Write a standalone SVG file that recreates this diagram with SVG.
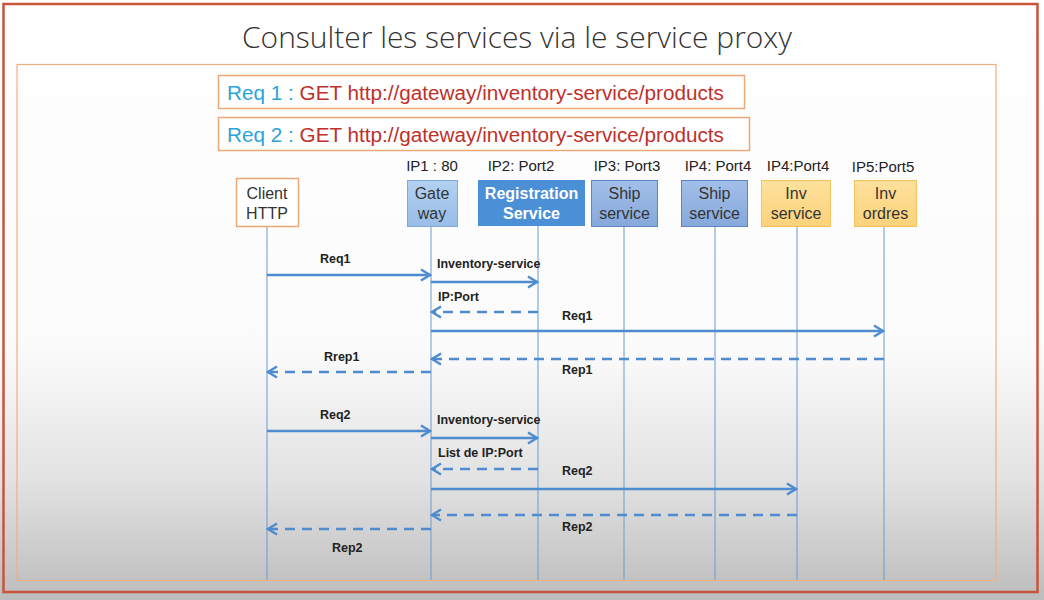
<svg xmlns="http://www.w3.org/2000/svg" width="1044" height="600" viewBox="0 0 1044 600">
  <defs>
    <linearGradient id="bg" x1="0" y1="0" x2="0" y2="1">
      <stop offset="0" stop-color="#ffffff"/>
      <stop offset="0.58" stop-color="#fbfbfb"/>
      <stop offset="0.8" stop-color="#e2e2e2"/>
      <stop offset="1" stop-color="#bcbcbc"/>
    </linearGradient>
    <linearGradient id="gwFill" x1="0" y1="0" x2="0" y2="1">
      <stop offset="0" stop-color="#b3d0f0"/>
      <stop offset="1" stop-color="#98bde8"/>
    </linearGradient>
    <linearGradient id="shipFill" x1="0" y1="0" x2="0" y2="1">
      <stop offset="0" stop-color="#a3bfe8"/>
      <stop offset="1" stop-color="#86a8dc"/>
    </linearGradient>
    <linearGradient id="invFill" x1="0" y1="0" x2="0" y2="1">
      <stop offset="0" stop-color="#fee19d"/>
      <stop offset="1" stop-color="#fcd27a"/>
    </linearGradient>
    <marker id="arrow" viewBox="0 0 14 14" refX="12" refY="7" markerWidth="14" markerHeight="14" markerUnits="userSpaceOnUse" orient="auto">
      <path d="M3,1.5 L12,7 L3,12.5" fill="none" stroke="#4f8ccf" stroke-width="2.4"/>
    </marker>
    <style>
      .title { font-family: "Open Sans", "Liberation Sans", sans-serif; font-weight: 300; font-size: 30px; fill: #333; }
      .req { font-family: "Liberation Sans", Arial, sans-serif; font-size: 20px; fill: #c0302a; }
      .reqId { fill: #2aa4d8; }
      .reqBox { fill: #ffffff; stroke: #eda878; stroke-width: 1.5; }
      .ip { font-family: "Liberation Sans", Arial, sans-serif; font-size: 15px; fill: #222; text-anchor: middle; }
      .nodeText { font-family: "Liberation Sans", Arial, sans-serif; font-size: 16px; fill: #333; text-anchor: middle; }
      .nodeTextW { font-family: "Liberation Sans", Arial, sans-serif; font-size: 16px; font-weight: bold; fill: #ffffff; text-anchor: middle; }
      .life { stroke: #6a9bd0; stroke-width: 1; fill: none; }
      .msg { stroke: #4f8ccf; stroke-width: 2.4; fill: none; marker-end: url(#arrow); }
      .ret { stroke: #4f8ccf; stroke-width: 2.4; fill: none; stroke-dasharray: 10 7; marker-end: url(#arrow); }
      .lbl { font-family: "Liberation Sans", Arial, sans-serif; font-size: 12.5px; font-weight: bold; fill: #222; }
    </style>
  </defs>

  <!-- page background and frames -->
  <rect x="0" y="0" width="1044" height="600" fill="url(#bg)"/>
  <rect x="3.5" y="4" width="1034" height="588" fill="none" stroke="#c9543c" stroke-width="2.5"/>
  <text class="title" x="517" y="48" text-anchor="middle" textLength="550" lengthAdjust="spacingAndGlyphs">Consulter les services via le service proxy</text>
  <rect x="17" y="64.5" width="979" height="516" fill="none" stroke="#f0b080" stroke-width="1.2"/>

  <!-- request headers -->
  <g id="req1">
    <rect class="reqBox" x="218.5" y="75.5" width="526" height="33"/>
    <text class="req" x="227" y="100" textLength="497" lengthAdjust="spacingAndGlyphs"><tspan class="reqId">Req 1 : </tspan>GET http://gateway/inventory-service/products</text>
  </g>
  <g id="req2">
    <rect class="reqBox" x="218.5" y="117.5" width="531" height="33"/>
    <text class="req" x="227" y="142" textLength="497" lengthAdjust="spacingAndGlyphs"><tspan class="reqId">Req 2 : </tspan>GET http://gateway/inventory-service/products</text>
  </g>

  <!-- lifelines -->
  <g id="lifelines">
    <line class="life" x1="267" y1="227" x2="267" y2="580"/>
    <line class="life" x1="431" y1="227" x2="431" y2="580"/>
    <line class="life" x1="538" y1="226" x2="538" y2="580"/>
    <line class="life" x1="624" y1="227" x2="624" y2="580"/>
    <line class="life" x1="715" y1="227" x2="715" y2="580"/>
    <line class="life" x1="797" y1="227" x2="797" y2="580"/>
    <line class="life" x1="884" y1="227" x2="884" y2="580"/>
  </g>

  <!-- participants -->
  <g id="client">
    <rect x="236.5" y="178.5" width="62" height="48" fill="#ffffff" stroke="#eda878" stroke-width="1.5"/>
    <text class="nodeText" x="267" y="199">Client</text>
    <text class="nodeText" x="267" y="219">HTTP</text>
  </g>
  <g id="gateway">
    <text class="ip" x="432" y="171">IP1 : 80</text>
    <rect x="407.5" y="180.5" width="50" height="46" fill="url(#gwFill)" stroke="#7fa9da" stroke-width="1"/>
    <text class="nodeText" x="432" y="199">Gate</text>
    <text class="nodeText" x="432" y="219">way</text>
  </g>
  <g id="registration">
    <text class="ip" x="521" y="171">IP2: Port2</text>
    <rect x="478" y="180" width="107" height="46" fill="#4b8fd6"/>
    <text class="nodeTextW" x="531.5" y="199">Registration</text>
    <text class="nodeTextW" x="531.5" y="219">Service</text>
  </g>
  <g id="ship1">
    <text class="ip" x="627" y="171">IP3: Port3</text>
    <rect x="591.5" y="180.5" width="66" height="46" fill="url(#shipFill)" stroke="#5d84c4" stroke-width="1"/>
    <text class="nodeText" x="624.5" y="199">Ship</text>
    <text class="nodeText" x="624.5" y="219">service</text>
  </g>
  <g id="ship2">
    <text class="ip" x="718" y="171">IP4: Port4</text>
    <rect x="681.5" y="180.5" width="66" height="46" fill="url(#shipFill)" stroke="#5d84c4" stroke-width="1"/>
    <text class="nodeText" x="714.5" y="199">Ship</text>
    <text class="nodeText" x="714.5" y="219">service</text>
  </g>
  <g id="invService">
    <text class="ip" x="798" y="171">IP4:Port4</text>
    <rect x="761.5" y="180.5" width="69" height="46" fill="url(#invFill)" stroke="#f5c060" stroke-width="1"/>
    <text class="nodeText" x="796" y="199">Inv</text>
    <text class="nodeText" x="796" y="219">service</text>
  </g>
  <g id="invOrdres">
    <text class="ip" x="883" y="172">IP5:Port5</text>
    <rect x="854.5" y="180.5" width="62" height="46" fill="url(#invFill)" stroke="#f5c060" stroke-width="1"/>
    <text class="nodeText" x="885.5" y="199">Inv</text>
    <text class="nodeText" x="885.5" y="219">ordres</text>
  </g>

  <!-- messages -->
  <g id="connectors">
    <line class="msg" x1="267" y1="275" x2="430" y2="275"/>
    <line class="msg" x1="431" y1="282" x2="537" y2="282"/>
    <line class="ret" x1="538" y1="312" x2="432" y2="312"/>
    <line class="msg" x1="431" y1="331" x2="883" y2="331"/>
    <line class="ret" x1="884" y1="359" x2="432" y2="359"/>
    <line class="ret" x1="431" y1="372" x2="268" y2="372"/>

    <line class="msg" x1="267" y1="431" x2="430" y2="431"/>
    <line class="msg" x1="431" y1="438" x2="537" y2="438"/>
    <line class="ret" x1="538" y1="469" x2="432" y2="469"/>
    <line class="msg" x1="431" y1="489" x2="796" y2="489"/>
    <line class="ret" x1="797" y1="515" x2="432" y2="515"/>
    <line class="ret" x1="431" y1="529" x2="268" y2="529"/>

    <text class="lbl" x="320" y="263">Req1</text>
    <text class="lbl" x="437" y="268">Inventory-service</text>
    <text class="lbl" x="438" y="301">IP:Port</text>
    <text class="lbl" x="562" y="320">Req1</text>
    <text class="lbl" x="324" y="361">Rrep1</text>
    <text class="lbl" x="562" y="374">Rep1</text>

    <text class="lbl" x="320" y="419">Req2</text>
    <text class="lbl" x="437" y="424">Inventory-service</text>
    <text class="lbl" x="438" y="457">List de IP:Port</text>
    <text class="lbl" x="562" y="475">Req2</text>
    <text class="lbl" x="562" y="531">Rep2</text>
    <text class="lbl" x="332" y="552">Rep2</text>
  </g>
</svg>
